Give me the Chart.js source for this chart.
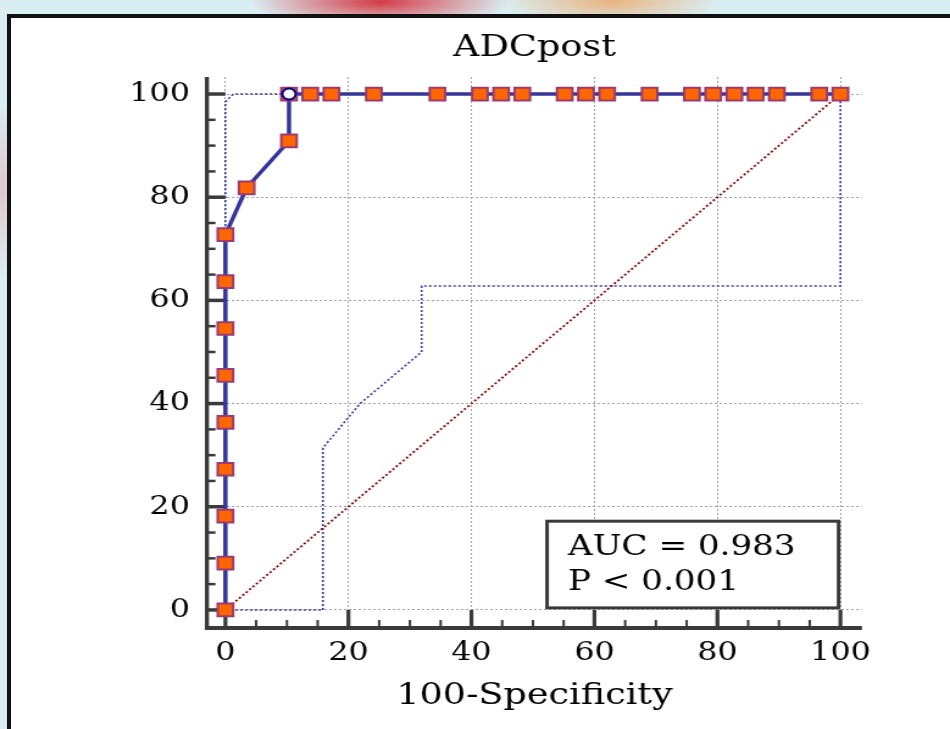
<!DOCTYPE html>
<html>
<head>
<meta charset="utf-8">
<title>ADCpost ROC</title>
<script src="https://cdn.jsdelivr.net/npm/chart.js@4.4.1/dist/chart.umd.min.js"></script>
<style>
  html, body { margin: 0; padding: 0; }
  body {
    width: 950px;
    height: 729px;
    overflow: hidden;
    position: relative;
    background:
      radial-gradient(ellipse 130px 26px at 380px 2px, rgba(212, 48, 60, 0.95), rgba(212, 48, 60, 0) 100%),
      radial-gradient(ellipse 110px 24px at 610px 2px, rgba(236, 170, 110, 0.85), rgba(236, 170, 110, 0) 100%),
      radial-gradient(ellipse 14px 90px at 2px 190px, rgba(230, 170, 180, 0.6), rgba(230, 170, 180, 0) 100%),
      #d9eef2;
  }
  #panel {
    position: absolute;
    left: 7px;
    top: 14px;
    width: 960px;
    height: 730px;
    background: #fff;
    border: 4px solid #111;
    box-sizing: border-box;
  }
  /* the original picture is stretched sideways, so the canvas is too */
  #roc {
    position: absolute;
    left: 0;
    top: 0;
    width: 950px !important;
    height: 729px !important;
  }
</style>
</head>
<body>
<div id="panel"></div>
<canvas id="roc" width="779" height="729"></canvas>
<script>
// ROC curve points (100-Specificity, Sensitivity)
const rocX = [0, 0, 0, 0, 0, 0, 0, 0, 0, 3.45, 10.34, 10.34, 13.79, 17.24, 24.14, 34.48,
  41.38, 44.83, 48.28, 55.17, 58.62, 62.07, 68.97, 75.86, 79.31, 82.76, 86.21, 89.66, 96.55, 100];
const rocY = [0, 9.09, 18.18, 27.27, 36.36, 45.45, 54.55, 63.64, 72.73, 81.82, 90.91, 100, 100, 100, 100, 100,
  100, 100, 100, 100, 100, 100, 100, 100, 100, 100, 100, 100, 100, 100];

// optimal criterion (open circle)
const criterionX = [10.34];
const criterionY = [100];

// 95% confidence bounds
const upperX = [0, 0, 1.3, 100];
const upperY = [0, 98.5, 100, 100];
const lowerX = [0, 15.85, 15.85, 21.9, 31.9, 31.9, 100, 100];
const lowerY = [0, 0, 31.4, 40, 50, 62.8, 62.8, 100];

// reference diagonal
const diagX = [0, 100];
const diagY = [0, 100];

const axisTicks = [0, 20, 40, 60, 80, 100];
const minorStep = 5;
const aucLines = ['AUC = 0.983', 'P < 0.001'];

const FONT = "'DejaVu Serif', 'Liberation Serif', serif";
const AXIS_COLOR = '#3a3a3a';

const pts = (xs, ys) => xs.map((x, i) => ({ x: x, y: ys[i] }));

// axes with inward ticks + the AUC box
const rocFrame = {
  id: 'rocFrame',
  beforeDatasetsDraw(chart) {
    const { ctx } = chart;
    const x = chart.scales.x;
    const y = chart.scales.y;
    const left = x.left;
    const bottom = y.bottom;
    const x0 = x.getPixelForValue(0);
    const y0 = y.getPixelForValue(0);
    ctx.save();

    // AUC box
    const bx1 = x.getPixelForValue(52.3), bx2 = x.getPixelForValue(99.7);
    const by1 = y.getPixelForValue(17.2), by2 = y.getPixelForValue(0.4);
    ctx.fillStyle = '#fff';
    ctx.fillRect(bx1, by1, bx2 - bx1, by2 - by1);
    ctx.strokeStyle = AXIS_COLOR;
    ctx.lineWidth = 3;
    ctx.strokeRect(bx1, by1, bx2 - bx1, by2 - by1);
    ctx.fillStyle = '#000';
    ctx.font = '28px ' + FONT;
    ctx.textAlign = 'left';
    ctx.textBaseline = 'alphabetic';
    ctx.fillText(aucLines[0], x.getPixelForValue(55.7), y.getPixelForValue(10.7));
    ctx.fillText(aucLines[1], x.getPixelForValue(55.7), y.getPixelForValue(3.9));

    // axis lines
    ctx.strokeStyle = AXIS_COLOR;
    ctx.lineWidth = 3.3;
    ctx.beginPath();
    ctx.moveTo(left, y.top);
    ctx.lineTo(left, bottom + 2);
    ctx.stroke();
    ctx.lineWidth = 4;
    ctx.beginPath();
    ctx.moveTo(left - 1.6, bottom);
    ctx.lineTo(x.right, bottom);
    ctx.stroke();

    // tick marks, pointing into the plot
    for (let v = axisTicks[0]; v <= axisTicks[axisTicks.length - 1]; v += minorStep) {
      const major = axisTicks.includes(v);
      const py = y.getPixelForValue(v);
      ctx.lineWidth = major ? 3.5 : 2.5;
      ctx.beginPath();
      ctx.moveTo(left, py);
      ctx.lineTo(major ? x0 : left + 7, py);
      ctx.stroke();

      const px = x.getPixelForValue(v);
      ctx.lineWidth = major ? 3.2 : 2;
      ctx.beginPath();
      ctx.moveTo(px, bottom);
      ctx.lineTo(px, major ? y0 : bottom - 8);
      ctx.stroke();
    }
    ctx.restore();
  }
};

const gridOpts = { color: '#a0a0a0', lineWidth: 1, drawTicks: false };

new Chart(document.getElementById('roc'), {
  type: 'scatter',
  data: {
    datasets: [
      {
        label: 'Criterion',
        data: pts(criterionX, criterionY),
        showLine: false,
        pointStyle: 'circle',
        pointRadius: 5.5,
        pointBackgroundColor: '#ffffff',
        pointBorderColor: '#00007f',
        pointBorderWidth: 2,
        order: 0
      },
      {
        label: 'ADCpost',
        data: pts(rocX, rocY),
        showLine: true,
        borderColor: '#35359b',
        borderWidth: 3.5,
        pointStyle: 'rect',
        pointRadius: 9,
        pointBackgroundColor: '#ff6600',
        pointBorderColor: '#9a3b72',
        pointBorderWidth: 2,
        order: 1
      },
      {
        label: 'Reference',
        data: pts(diagX, diagY),
        showLine: true,
        borderColor: '#8b0a0a',
        borderWidth: 1.8,
        borderDash: [2, 2],
        pointRadius: 0,
        order: 2
      },
      {
        label: 'Upper 95% CI',
        data: pts(upperX, upperY),
        showLine: true,
        borderColor: '#3838ad',
        borderWidth: 1.6,
        borderDash: [2, 2],
        pointRadius: 0,
        order: 3
      },
      {
        label: 'Lower 95% CI',
        data: pts(lowerX, lowerY),
        showLine: true,
        borderColor: '#3838ad',
        borderWidth: 1.6,
        borderDash: [2, 2],
        pointRadius: 0,
        order: 3
      }
    ]
  },
  options: {
    responsive: false,
    animation: false,
    devicePixelRatio: 1,
    events: [],
    layout: { padding: { left: 0, right: 72.2, top: 0, bottom: 0 } },
    plugins: {
      legend: { display: false },
      tooltip: { enabled: false },
      title: {
        display: true,
        text: 'ADCpost',
        fullSize: false,
        color: '#000',
        font: { family: FONT, size: 30, weight: 'normal' },
        padding: { top: 30, bottom: 11 }
      }
    },
    scales: {
      x: {
        type: 'linear',
        min: -3,
        max: 103.5,
        afterBuildTicks: s => { s.ticks = axisTicks.map(v => ({ value: v })); },
        afterFit: s => { s.height = 101; },
        grid: gridOpts,
        border: { display: false, dash: [2, 2] },
        ticks: {
          color: '#000',
          font: { family: FONT, size: 26 },
          padding: 10,
          maxRotation: 0,
          autoSkip: false
        },
        title: {
          display: true,
          text: '100-Specificity',
          color: '#000',
          font: { family: FONT, size: 30, weight: 'normal' },
          padding: { top: 0, bottom: 15 }
        }
      },
      y: {
        type: 'linear',
        min: -3.5,
        max: 103.3,
        afterBuildTicks: s => { s.ticks = axisTicks.map(v => ({ value: v })); },
        afterFit: s => { s.width = 169.7; },
        grid: gridOpts,
        border: { display: false, dash: [2, 2] },
        ticks: {
          color: '#000',
          font: { family: FONT, size: 26 },
          padding: 14,
          autoSkip: false
        }
      }
    }
  },
  plugins: [rocFrame]
});
</script>
</body>
</html>
